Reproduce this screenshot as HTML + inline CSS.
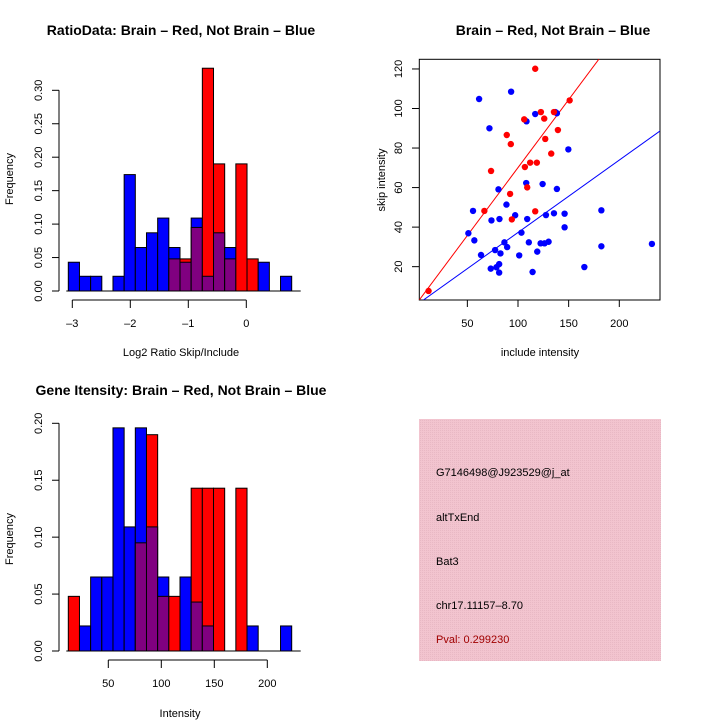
<!DOCTYPE html>
<html><head><meta charset="utf-8"><style>
body{margin:0;background:#fff}
svg{display:block;font-family:"Liberation Sans",sans-serif}
</style></head><body>
<svg id="s" width="720" height="720" viewBox="0 0 720 720" xmlns="http://www.w3.org/2000/svg">
<defs><pattern id="pk" width="2" height="2" patternUnits="userSpaceOnUse"><rect width="2" height="2" fill="#f2c4cf"/><rect width="1" height="1" fill="#e8b8c4"/></pattern></defs>
<g id="g"></g>
<text x="181" y="35" text-anchor="middle" font-size="14" font-weight="bold">RatioData: Brain – Red, Not Brain – Blue</text>
<text x="553" y="35" text-anchor="middle" font-size="14" font-weight="bold">Brain – Red, Not Brain – Blue</text>
<text x="181" y="395" text-anchor="middle" font-size="14" font-weight="bold">Gene Itensity: Brain – Red, Not Brain – Blue</text>
<text x="181" y="356" text-anchor="middle" font-size="11">Log2 Ratio Skip/Include</text>
<text transform="translate(13,179) rotate(-90)" text-anchor="middle" font-size="11">Frequency</text>
<text x="540" y="356" text-anchor="middle" font-size="11">include intensity</text>
<text transform="translate(385,180) rotate(-90)" text-anchor="middle" font-size="11">skip intensity</text>
<text x="180" y="717" text-anchor="middle" font-size="11">Intensity</text>
<text transform="translate(13,539) rotate(-90)" text-anchor="middle" font-size="11">Frequency</text>
<rect x="419" y="419" width="242" height="242" fill="url(#pk)"/>
<text x="436" y="476" font-size="11">G7146498@J923529@j_at</text>
<text x="436" y="521" font-size="11">altTxEnd</text>
<text x="436" y="565" font-size="11">Bat3</text>
<text x="436" y="609" font-size="11">chr17.11157–8.70</text>
<text x="436" y="643" font-size="11" fill="#a00000">Pval: 0.299230</text>
</svg>
<script>
const ratioBlue=[0.043,0.022,0.022,0,0.022,0.174,0.065,0.087,0.109,0.065,0.043,0.109,0.022,0.087,0.065,0,0,0.043,0,0.022];
const ratioRed=[0,0,0,0,0,0,0,0,0,0.048,0.048,0.095,0.333,0.19,0.048,0.19,0.048,0,0,0];
const ratioXTicks=[-3,-2,-1,0];
const ratioYTicks=["0.00","0.05","0.10","0.15","0.20","0.25","0.30"];
const intBlue=[0,0.022,0.065,0.065,0.196,0.109,0.196,0.109,0.065,0,0.065,0.043,0.022,0,0,0,0.022,0,0,0.022];
const intRed=[0.048,0,0,0,0,0,0.095,0.19,0.048,0.048,0,0.143,0.143,0.143,0,0.143,0,0,0,0];
const intXTicks=[50,100,150,200];
const intYTicks=["0.00","0.05","0.10","0.15","0.20"];
const redX=[11.7,66.8,73.4,88.9,92.9,92.2,93.9,106.1,106.8,109.1,112.0,117.0,117.0,118.6,122.6,125.9,126.9,132.8,135.5,139.4,151.0];
const redY=[7.7,48.2,68.4,86.6,82.0,56.8,43.9,94.5,70.4,60.1,72.6,120.1,48.0,72.6,98.2,94.9,84.6,77.2,98.2,89.1,104.1];
const blueX=[61.6,51.0,55.6,56.9,63.5,71.8,73.1,73.8,78.7,77.4,80.7,81.7,82.7,81.4,81.4,86.6,88.6,89.3,93.2,97.2,101.2,103.4,108.4,108.1,109.1,110.7,114.4,117.0,119.0,122.3,124.3,126.2,127.6,130.2,135.5,136.8,138.4,138.4,146.0,146.0,149.7,165.5,182.3,182.3,232.2];
const blueY=[104.8,36.9,48.2,33.3,25.9,90.0,19.0,43.4,19.7,28.4,59.1,44.1,26.7,17.0,21.3,32.3,51.4,29.9,108.5,46.0,25.7,37.2,93.5,62.3,44.1,32.3,17.3,97.2,27.6,31.8,61.8,31.8,46.1,32.6,47.0,98.2,97.6,59.3,46.8,39.9,79.3,19.8,48.5,30.3,31.5];
const scXTicks=[50,100,150,200];
const scYTicks=[20,40,60,80,100,120];
const redFit=[1.4,0.687];
const blueFit=[0.7,0.366];

const NS="http://www.w3.org/2000/svg",G=document.getElementById('g');
function mk(t,a,p){const e=document.createElementNS(NS,t);for(const k in a)e.setAttribute(k,a[k]);(p||G).appendChild(e);return e;}

function hist(blue,red,xs,ys,xTicks,yTicks,bx0,bw,axY,nameP){
  for(let i=0;i<blue.length;i++){
    const x=bx0+i*bw,b=blue[i],r=red[i],m=Math.min(b,r),M=Math.max(b,r);
    if(M<=0)continue;
    const top=M===b?'#0000ff':'#ff0000';
    let e=mk('rect',{x:x,y:ys(M),width:bw,height:ys(0)-ys(M),fill:top,stroke:'#000','stroke-width':1});
    
    
    if(m>0){e=mk('rect',{x:x,y:ys(m),width:bw,height:ys(0)-ys(m),fill:'#800080',stroke:'#000','stroke-width':1});
    
    }
  }
  mk('line',{x1:bx0-2,x2:bx0+bw*blue.length+9,y1:ys(0),y2:ys(0),stroke:'#000'});
  const yv=yTicks.map(Number);
  mk('line',{x1:59,x2:59,y1:ys(0),y2:ys(yv[yv.length-1]),stroke:'#000'});
  yTicks.forEach((t,i)=>{const y=ys(yv[i]);mk('line',{x1:52,x2:59,y1:y,y2:y,stroke:'#000'});
    const tx=mk('text',{transform:`translate(42,${y}) rotate(-90)`,'text-anchor':'middle','font-size':11});tx.textContent=t;
    
    });
  mk('line',{x1:xs(xTicks[0]),x2:xs(xTicks[xTicks.length-1]),y1:axY,y2:axY,stroke:'#000'});
  xTicks.forEach(t=>{const x=xs(t);mk('line',{x1:x,x2:x,y1:axY,y2:axY+8,stroke:'#000'});
    const tx=mk('text',{x:x,y:axY+27,'text-anchor':'middle','font-size':11});tx.textContent=t<0?'–'+(-t):t;
    
    });
}
hist(ratioBlue,ratioRed,v=>130.3+(v+2)*58,v=>291-v*669,ratioXTicks,ratioYTicks,68.3,11.17,300,'ratio');
hist(intBlue,intRed,v=>108.3+(v-50)*1.06,v=>651-v*1138.5,intXTicks,intYTicks,68.3,11.17,660,'intensity');

const sx=v=>416.7+v*1.013, sy=v=>306.2-v*1.977;
const cp=mk('clipPath',{id:'cp'});mk('rect',{x:419.3,y:59.3,width:240.7,height:240.7},cp);
mk('rect',{x:419.3,y:59.3,width:240.7,height:240.7,fill:'none',stroke:'#000'});
scXTicks.forEach(t=>{const x=sx(t);mk('line',{x1:x,x2:x,y1:300,y2:307,stroke:'#000'});
  const tx=mk('text',{x:x,y:327,'text-anchor':'middle','font-size':11});tx.textContent=t;
  
  });
scYTicks.forEach(t=>{const y=sy(t);mk('line',{x1:412,x2:419.3,y1:y,y2:y,stroke:'#000'});
  const tx=mk('text',{transform:`translate(402,${y}) rotate(-90)`,'text-anchor':'middle','font-size':11});tx.textContent=t;
  
  });
const lg=mk('g',{'clip-path':'url(#cp)'});
[[redFit,'#ff0000','red-fit-line'],[blueFit,'#0000ff','blue-fit-line']].forEach(([f,c,n])=>{
  const l=mk('line',{x1:sx(0),y1:sy(f[0]),x2:sx(260),y2:sy(f[0]+f[1]*260),stroke:c,'stroke-width':1},lg);
  
  });
blueX.forEach((x,i)=>{const c=mk('circle',{cx:sx(x),cy:sy(blueY[i]),r:3.2,fill:'#0000ff'});
  
  });
redX.forEach((x,i)=>{const c=mk('circle',{cx:sx(x),cy:sy(redY[i]),r:3.2,fill:'#ff0000'});
  
  });
</script>
</body></html>
